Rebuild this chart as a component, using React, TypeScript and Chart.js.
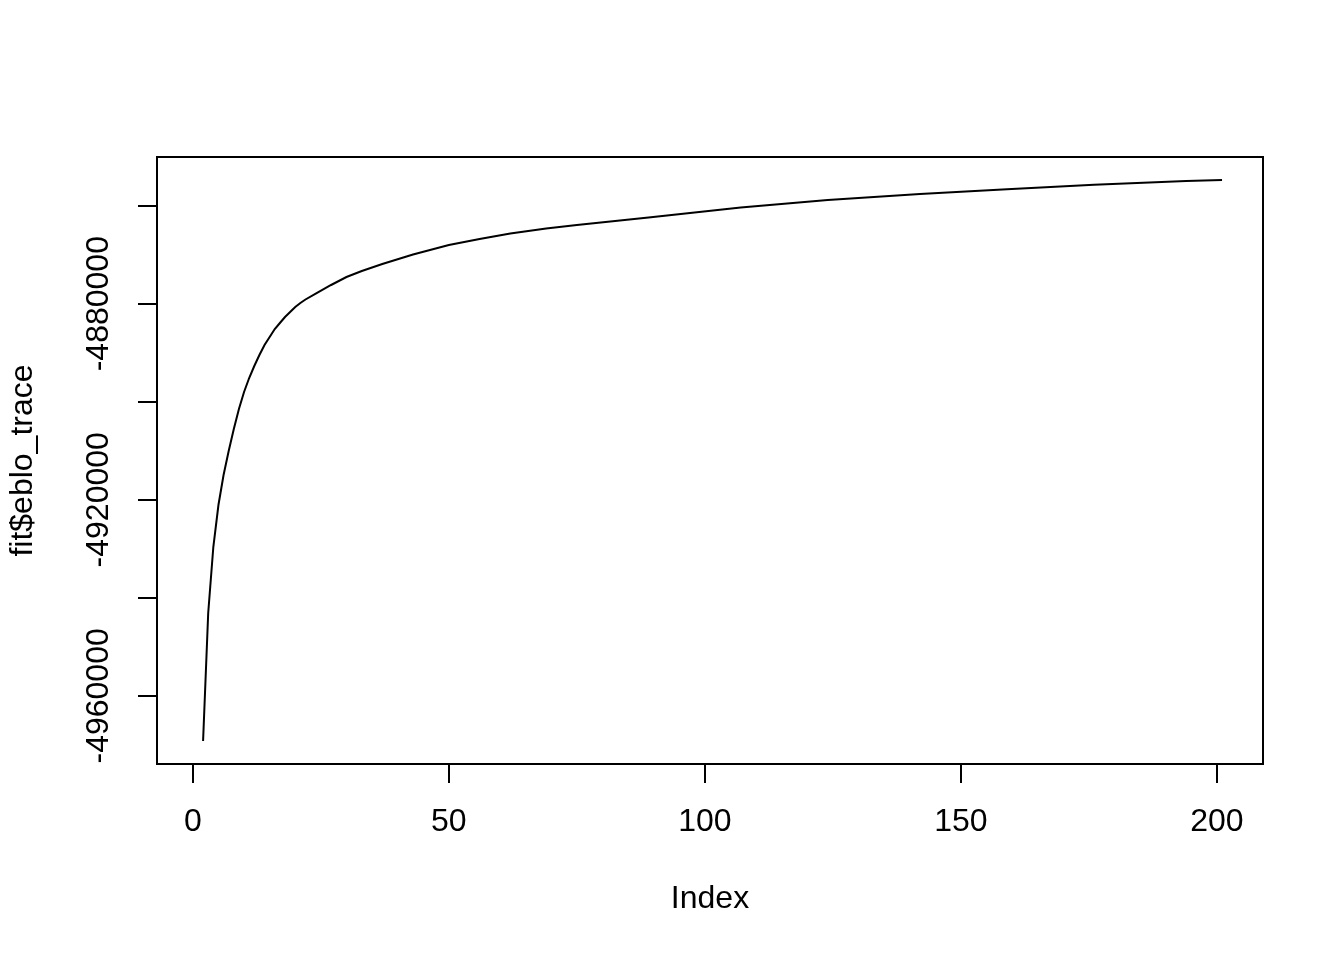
import React, { useEffect, useRef } from "react";
import { Chart, registerables } from "chart.js";

Chart.register(...registerables);

// Iteration index of each read-off vertex of the trace
const INDEX = [
  2, 3, 4, 5, 6, 7, 8, 9, 10, 11, 12, 13, 14, 15, 16, 17, 18, 19, 20, 21, 22,
  24, 27, 30, 33, 37, 43, 50, 56, 62, 69, 75, 89, 107, 124, 142, 159, 176, 194,
  201,
];

// ELBO values
const ELBO = [
  -4969210, -4943100, -4929640, -4921070, -4914950, -4910050, -4905570,
  -4901490, -4898020, -4895160, -4892710, -4890470, -4888430, -4886800,
  -4885170, -4883940, -4882720, -4881700, -4880680, -4879860, -4879150,
  -4877930, -4876190, -4874560, -4873340, -4871910, -4869970, -4868030,
  -4866810, -4865690, -4864670, -4863950, -4862420, -4860380, -4858850,
  -4857630, -4856670, -4855730, -4854980, -4854770,
];

const X_TICKS = [0, 50, 100, 150, 200];
const Y_TICKS = [-4960000, -4940000, -4920000, -4900000, -4880000, -4860000];
const Y_TICK_LABELS = [-4960000, -4920000, -4880000];
const X_RANGE = [-7, 209];
const Y_RANGE = [-4973900, -4850080];
const X_TITLE = "Index";
const Y_TITLE = "fit$eblo_trace";

const FONT_FAMILY = "'Liberation Sans', Arial, Helvetica, sans-serif";

const boxPlugin = {
  id: "plotBox",
  afterDraw(chart: any) {
    const { ctx, chartArea } = chart;
    const { left, top, right, bottom } = chartArea;
    ctx.save();
    ctx.strokeStyle = "#000";
    ctx.lineWidth = 2;
    ctx.strokeRect(left, top, right - left, bottom - top);
    ctx.restore();
  },
};

export default function App() {
  const ref = useRef<HTMLCanvasElement | null>(null);

  useEffect(() => {
    if (!ref.current) return;
    const points = INDEX.map((x, i) => ({ x, y: ELBO[i] }));
    const chart = new Chart(ref.current, {
      type: "line",
      data: {
        datasets: [
          {
            data: points,
            borderColor: "#000",
            borderWidth: 2,
            pointRadius: 0,
            tension: 0,
            fill: false,
          },
        ],
      },
      plugins: [boxPlugin],
      options: {
        animation: false,
        responsive: false,
        devicePixelRatio: 1,
        parsing: false as any,
        layout: { padding: { left: 0, top: 157, right: 81, bottom: 0 } },
        plugins: {
          legend: { display: false },
          tooltip: { enabled: false },
        },
        scales: {
          x: {
            type: "linear",
            position: "bottom",
            min: X_RANGE[0],
            max: X_RANGE[1],
            afterBuildTicks: (scale: any) => {
              scale.ticks = X_TICKS.map((value) => ({ value }));
            },
            afterFit: (scale: any) => {
              scale.height = 196;
            },
            grid: {
              display: true,
              drawOnChartArea: false,
              drawTicks: true,
              tickLength: 19,
              color: "#000",
              lineWidth: 2,
            },
            border: { display: false },
            ticks: {
              autoSkip: false,
              maxRotation: 0,
              minRotation: 0,
              padding: 20,
              color: "#000",
              font: { family: FONT_FAMILY, size: 32 },
              callback: (v: any) => String(v),
            },
            title: {
              display: true,
              text: X_TITLE,
              color: "#000",
              font: { family: FONT_FAMILY, size: 32 },
              padding: { top: 0, bottom: 42 },
            },
          },
          y: {
            type: "linear",
            position: "left",
            min: Y_RANGE[0],
            max: Y_RANGE[1],
            afterBuildTicks: (scale: any) => {
              scale.ticks = Y_TICKS.map((value) => ({ value }));
            },
            afterFit: (scale: any) => {
              scale.width = 157;
            },
            grid: {
              display: true,
              drawOnChartArea: false,
              drawTicks: true,
              tickLength: 19,
              color: "#000",
              lineWidth: 2,
            },
            border: { display: false },
            ticks: {
              autoSkip: false,
              minRotation: 90,
              maxRotation: 90,
              crossAlign: "center",
              padding: -29,
              color: "#000",
              font: { family: FONT_FAMILY, size: 32 },
              callback: (v: any) =>
                Y_TICK_LABELS.includes(Number(v)) ? String(v) : "",
            },
            title: {
              display: true,
              text: Y_TITLE,
              color: "#000",
              font: { family: FONT_FAMILY, size: 32 },
              padding: { top: 4, bottom: 0 },
            },
          },
        },
      } as any,
    });
    return () => chart.destroy();
  }, []);

  return (
    <div
      style={{
        position: "absolute",
        left: 0,
        top: 0,
        width: 1344,
        height: 960,
        background: "#fff",
      }}
    >
      <canvas
        ref={ref}
        width={1344}
        height={960}
        style={{ display: "block", width: 1344, height: 960 }}
      />
    </div>
  );
}
